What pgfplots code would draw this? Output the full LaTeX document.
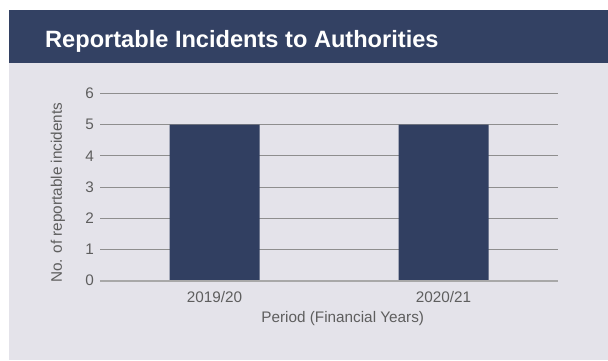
\documentclass[border=0pt]{standalone}
\usepackage{pgfplots}
\pgfplotsset{compat=1.18}
\usepackage{fontspec}
\setmainfont{Liberation Sans}
\definecolor{navy}{HTML}{334163}
\definecolor{barcol}{HTML}{313F61}
\definecolor{panelbg}{HTML}{E4E3EA}
\definecolor{txt}{HTML}{5E5E5E}
\definecolor{gridc}{HTML}{8E8E8E}
\definecolor{zeroc}{HTML}{A8A8A8}
\begin{document}
\begin{tikzpicture}
\useasboundingbox (0pt,0pt) rectangle (608pt,360pt);
\fill[white] (0pt,0pt) rectangle (608pt,360pt);
\fill[panelbg] (9pt,0pt) rectangle (608pt,350pt);
\fill[navy] (9pt,297pt) rectangle (608pt,350pt);
\node[anchor=base west, inner sep=0pt, text=white, font=\fontsize{23.6}{26}\selectfont\bfseries] at (45pt,312.7pt) {Reportable Incidents to Authorities};
\begin{axis}[
  at={(100pt,79.3pt)}, anchor=south west,
  scale only axis, width=458pt, height=187.3pt,
  xmin=-0.5, xmax=1.5, ymin=0, ymax=6,
  axis line style={draw=none},
  ytick={0,1,2,3,4,5,6},
  xtick={0,1}, xticklabels={2019/20,2020/21},
  major tick length=0pt,
  ymajorgrids, grid style={gridc, line width=1pt},
  /pgf/number format/assume math mode=true,
  tick label style={font=\fontsize{15.3}{17}\selectfont, text=txt},
  yticklabel style={inner sep=0pt, xshift=-6pt},
  xticklabel style={inner sep=0pt, yshift=-10.5pt},
  xlabel={Period (Financial Years)},
  ylabel={No. of reportable incidents},
  label style={font=\fontsize{15.3}{17}\selectfont, text=txt},
  xlabel style={at={(axis description cs:0.53,0)}, anchor=north, inner sep=0pt, yshift=-31pt},
  ylabel style={at={(axis description cs:-0.0917,0.47)}, anchor=center, inner sep=0pt},
  clip=false,
]
\addplot[ybar, bar width=90pt, fill=barcol, draw=none] coordinates {(0,5) (1,5)};
\draw[zeroc, line width=1.6pt] (axis cs:-0.5,0) -- (axis cs:1.5,0);
\end{axis}
\end{tikzpicture}
\end{document}
